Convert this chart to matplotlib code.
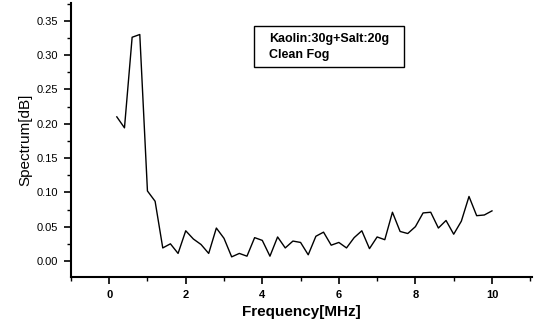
import matplotlib.pyplot as plt
from matplotlib.patches import Rectangle
from matplotlib.ticker import MultipleLocator

# Données
freq = [0.2, 0.4, 0.6, 0.8, 1.0, 1.2, 1.4, 1.6, 1.8, 2.0,
        2.2, 2.4, 2.6, 2.8, 3.0, 3.2, 3.4, 3.6, 3.8, 4.0,
        4.2, 4.4, 4.6, 4.8, 5.0, 5.2, 5.4, 5.6, 5.8, 6.0,
        6.2, 6.4, 6.6, 6.8, 7.0, 7.2, 7.4, 7.6, 7.8, 8.0,
        8.2, 8.4, 8.6, 8.8, 9.0, 9.2, 9.4, 9.6, 9.8, 10.0]
spectrum = [0.210, 0.194, 0.326, 0.330, 0.102, 0.087, 0.019, 0.025, 0.011, 0.044,
            0.032, 0.024, 0.011, 0.048, 0.033, 0.006, 0.011, 0.007, 0.034, 0.030,
            0.007, 0.035, 0.019, 0.029, 0.027, 0.009, 0.036, 0.042, 0.023, 0.027,
            0.019, 0.034, 0.044, 0.018, 0.035, 0.031, 0.071, 0.043, 0.040, 0.050,
            0.070, 0.071, 0.048, 0.059, 0.039, 0.058, 0.094, 0.066, 0.067, 0.073]
x_ticks = [0, 2, 4, 6, 8, 10]
y_ticks = [0.00, 0.05, 0.10, 0.15, 0.20, 0.25, 0.30, 0.35]
legend_lines = ['Kaolin:30g+Salt:20g', 'Clean Fog']

plt.rcParams['font.family'] = ['Liberation Sans', 'DejaVu Sans']

fig = plt.figure(figsize=(5.37, 3.26), dpi=100)
ax = fig.add_axes([0.132, 0.150, 0.859, 0.841])

ax.plot(freq, spectrum, color='black', linewidth=1.0)

ax.set_xlim(-1, 11.05)
ax.set_ylim(-0.0235, 0.376)

ax.spines['top'].set_visible(False)
ax.spines['right'].set_visible(False)
ax.spines['left'].set_linewidth(1.5)
ax.spines['bottom'].set_linewidth(1.5)

ax.set_xticks(x_ticks)
ax.set_xticklabels([str(t) for t in x_ticks], fontsize=8, fontweight='bold')
ax.set_yticks(y_ticks)
ax.set_yticklabels(['%.2f' % t for t in y_ticks], fontsize=8)
ax.xaxis.set_minor_locator(MultipleLocator(1))
ax.yaxis.set_minor_locator(MultipleLocator(0.025))
ax.tick_params(which='major', direction='out', length=5, width=1.2, pad=4)
ax.tick_params(which='minor', direction='out', length=3, width=1.0)

ax.set_xlabel('Frequency[MHz]', fontsize=11, fontweight='bold', labelpad=4)
ax.set_ylabel('Spectrum[dB]', fontsize=11, labelpad=3)

# Cadre de la légende
ax.add_patch(Rectangle((0.397, 0.766), 0.325, 0.150, transform=ax.transAxes,
                       facecolor='white', edgecolor='black', linewidth=1.0))
ax.text(0.43, 0.869, legend_lines[0], transform=ax.transAxes,
        fontsize=9, fontweight='bold', va='center', ha='left')
ax.text(0.43, 0.810, legend_lines[1], transform=ax.transAxes,
        fontsize=9, fontweight='bold', va='center', ha='left')

fig.savefig('out.png', dpi=100)
